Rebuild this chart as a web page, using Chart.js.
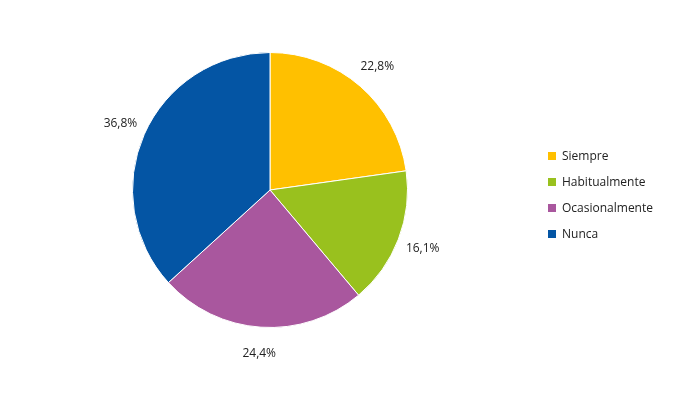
<!DOCTYPE html>
<html>
<head>
<meta charset="utf-8">
<script src="https://cdn.jsdelivr.net/npm/chart.js@4/dist/chart.umd.min.js"></script>
<style>
  body { margin: 0; background: #fff; font-family: "Open Sans", sans-serif; }
  #wrap { position: relative; width: 700px; height: 412px; }
  #legend { position: absolute; left: 548px; top: 143px; font-size: 12px; color: #222; }
  #legend div { height: 26px; line-height: 16px; display: flex; align-items: center; }
  #legend span.box { width: 8px; height: 8px; margin-right: 6px; display: inline-block; }
</style>
</head>
<body>
<div id="wrap">
  <canvas id="pieChart" width="700" height="412"></canvas>
  <div id="legend"></div>
</div>
<script>
const categories = ["Siempre", "Habitualmente", "Ocasionalmente", "Nunca"];
const values = [22.8, 16.1, 24.4, 36.8];
const colors = ["#FFC000", "#99C11E", "#A9579E", "#0455A4"];

// legend as html
const legend = document.getElementById("legend");
categories.forEach((c, i) => {
    const row = document.createElement("div");
    row.innerHTML = '<span class="box" style="background:' + colors[i] + '"></span>' + c;
    legend.appendChild(row);
});

// percentage labels outside the slices
const outsideLabels = {
    id: "outsideLabels",
    afterDatasetsDraw(chart) {
        const ctx = chart.ctx;
        const meta = chart.getDatasetMeta(0);
        ctx.save();
        ctx.font = "12px 'Open Sans', sans-serif";
        ctx.fillStyle = "#222";
        ctx.textAlign = "center";
        ctx.textBaseline = "middle";
        meta.data.forEach((arc, i) => {
            const mid = (arc.startAngle + arc.endAngle) / 2;
            const r = arc.outerRadius + 26;
            const x = arc.x + Math.cos(mid) * r;
            const y = arc.y + Math.sin(mid) * r;
            ctx.fillText(values[i].toFixed(1).replace(".", ",") + "%", x, y);
        });
        ctx.restore();
    },
};

new Chart(document.getElementById("pieChart").getContext("2d"), {
    type: "pie",
    data: {
        labels: categories,
        datasets: [
            {
                data: values,
                backgroundColor: colors,
                borderWidth: 1,
                borderColor: "#fff",
            },
        ],
    },
    options: {
        responsive: false,
        animation: false,
        layout: {
            padding: { left: 132, right: 292, top: 52, bottom: 84 },
        },
        plugins: {
            legend: { display: false },
            tooltip: { enabled: false },
        },
    },
    plugins: [outsideLabels],
});
</script>
</body>
</html>
